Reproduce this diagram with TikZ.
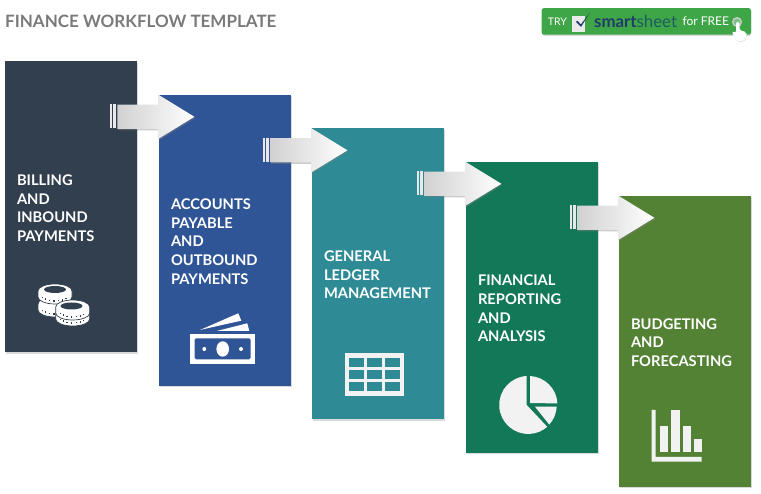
\documentclass[tikz,border=0pt]{standalone}
\usepackage{fontspec}
\setmainfont{Lato}
\usetikzlibrary{calc,shadows,shapes.arrows}
\definecolor{billingcol}{HTML}{323F4F}
\definecolor{payablecol}{HTML}{2F5597}
\definecolor{ledgercol}{HTML}{2E8B96}
\definecolor{reportingcol}{HTML}{127858}
\definecolor{budgetcol}{HTML}{548235}
\definecolor{iconcol}{HTML}{F2F2F2}
\definecolor{buttoncol}{HTML}{3FA648}
\tikzset{
  stepbox/.style={minimum width=132pt, minimum height=291pt, inner sep=0pt,
    drop shadow={shadow xshift=.6pt, shadow yshift=-1.2pt, opacity=.3}},
  steplabel/.style={inner sep=0pt, text width=108pt, yshift=-1pt,
    align=left, text=white, font=\fontsize{14.7}{18.6}\selectfont\bfseries},
  flowarrow/.style={single arrow, single arrow tip angle=63, single arrow head extend=10pt,
    single arrow head indent=0pt, text height=24pt, text depth=0pt, minimum height=77pt, inner sep=0pt,
    left color=black!18, right color=white,
    drop shadow={shadow xshift=.6pt, shadow yshift=-1.5pt, opacity=.4}},
  coin/.pic={
    \fill[white,draw=billingcol,line width=.7pt] (-17pt,0pt) -- (-17pt,-6pt) arc[start angle=180,end angle=360,x radius=17pt,y radius=7pt] -- (17pt,0pt) arc[start angle=0,end angle=180,x radius=17pt,y radius=7pt] -- cycle;
    \foreach \a in {205,225,...,335}
      \fill[billingcol] ({13.5*cos(\a)-.6},{-4+6*sin(\a)-.7}) rectangle +(1.3,1.5);
  }
}
\newcommand{\flowstep}[2]{
  \node[flowarrow,anchor=tip] (#1) at ($(#2.north west)+(36,-22)$) {};
  \fill[black!9] ($(#2.north west)+(-49,-9.5)$) rectangle +(2,-24);
  \fill[black!9] ($(#2.north west)+(-45.7,-9.5)$) rectangle +(2.7,-24);
}
\begin{document}
\begin{tikzpicture}[x=1pt,y=1pt]
\useasboundingbox (0,0) rectangle (761,494);

\node[anchor=west,inner sep=0pt,text=black!52,font=\fontsize{17}{19}\selectfont\bfseries] (title) at (5,473) {FINANCE WORKFLOW TEMPLATE};

% the five steps
\node[stepbox,fill=billingcol] (billing) at (71,287) {};
\node[stepbox,fill=payablecol] (payable) at (225,253.5) {};
\node[stepbox,fill=ledgercol] (ledger) at (378,220) {};
\node[stepbox,fill=reportingcol] (reporting) at (532,186.5) {};
\node[stepbox,fill=budgetcol] (budget) at (685,152.5) {};

\node[steplabel] (billinglabel) at (billing) {BILLING\\AND\\INBOUND\\PAYMENTS};
\node[steplabel] (payablelabel) at (payable) {ACCOUNTS\\PAYABLE\\AND\\OUTBOUND\\PAYMENTS};
\node[steplabel] (ledgerlabel) at (ledger) {GENERAL\\LEDGER\\MANAGEMENT};
\node[steplabel] (reportinglabel) at (reporting) {FINANCIAL\\REPORTING\\AND\\ANALYSIS};
\node[steplabel] (budgetlabel) at (budget) {BUDGETING\\AND\\FORECASTING};

\flowstep{billingarrow}{payable}
\flowstep{payablearrow}{ledger}
\flowstep{ledgerarrow}{reporting}
\flowstep{reportingarrow}{budget}

% coins
\pic at (55,190) {coin};
\pic at (55,203) {coin};
\fill[billingcol] (55,204.5) ellipse [x radius=11pt,y radius=3.5pt];
\pic at (72.7,181) {coin};
\pic at (72.7,187) {coin};
\fill[billingcol] (71.5,188) ellipse [x radius=11pt,y radius=3.5pt];

% banknotes
\fill[white] (200,164) -- (238.3,180.7) -- (241.3,173.3) -- (211.7,166.7) -- cycle;
\fill[white] (216.7,163) -- (247.3,170.7) -- (249.3,163) -- cycle;
\fill[white] (190,129.7) rectangle (255.3,160);
\fill[payablecol,rounded corners=1.5pt] (194.7,134.7) rectangle (250.7,155.7);
\fill[white] (222.7,145) ellipse [x radius=6.3pt,y radius=7.7pt];
\fill[white] (204.3,145) circle [radius=2pt];
\fill[white] (241,145) circle [radius=2pt];

% table
\fill[iconcol] (344.7,98) rectangle (403.7,141);
\foreach \x in {349,366.7,384.7}
  \foreach \y in {127.3,115,103}
    \fill[ledgercol] (\x,\y) rectangle +(15,8.7);

% pie
\fill[iconcol] (526.7,89) -- (526.7,118) arc[start angle=93,end angle=311,radius=29pt] -- cycle;
\fill[iconcol] (530,91) -- (530,118) arc[start angle=87,end angle=3,radius=29pt] -- cycle;
\fill[iconcol] (535,87.3) -- (556.7,87.3) arc[start angle=-3,end angle=-42,radius=29pt] -- cycle;

% bars
\fill[iconcol] (651.7,84) -- (655.7,84) -- (655.7,37) -- (701.7,37) -- (701.7,32.3) -- (651.7,32.3) -- cycle;
\fill[iconcol] (660.3,41.7) rectangle (668.3,68.3);
\fill[iconcol] (671.3,41.7) rectangle (679.7,84);
\fill[iconcol] (682.7,41.7) rectangle (690.7,68.3);
\fill[iconcol] (693.7,41.7) rectangle (701.7,55.3);

% button
\node[fill=buttoncol,rounded corners=2.5pt,minimum width=209.3pt,minimum height=26.7pt,inner sep=0pt,
  drop shadow={shadow xshift=.4pt,shadow yshift=-1.2pt,opacity=.3}] (button) at (646.35,472.6) {};
\node[anchor=west,inner sep=0pt,text=white,font=\fontsize{10.5}{12}\selectfont] (try) at (547.7,472.4) {TRY};
\fill[white!92!black] (572,462.3) rectangle (585,478);
\fill[payablecol!70!black] (575.7,472.3) -- (577.7,473) -- (580.8,469.5) -- (590,481.5) -- (581,467) -- cycle;
\node[anchor=west,inner sep=0pt,text=payablecol!70!black,font=\fontsize{16.8}{18}\selectfont] (logo) at (594,472.4) {\textbf{smart}\textcolor{ledgercol!65!black}{sheet}};
\node[anchor=west,inner sep=0pt,text=white,font=\fontsize{12}{14}\selectfont] (free) at (682.3,472.4) {for FREE};
\node[circle,draw=white!80!black,line width=1.4pt,fill=buttoncol!70!white,minimum size=8.5pt,inner sep=0pt] (target) at (737,472) {};
\fill[white,rounded corners=1.5pt,drop shadow={shadow xshift=.3pt,shadow yshift=-.6pt,opacity=.3}] (736,472) -- (739.5,472) -- (739.5,464) -- (746,462) -- (747,458) -- (744,453) -- (737,453) -- (732,461) -- (733,463) -- (736,461) -- cycle;
\end{tikzpicture}
\end{document}
